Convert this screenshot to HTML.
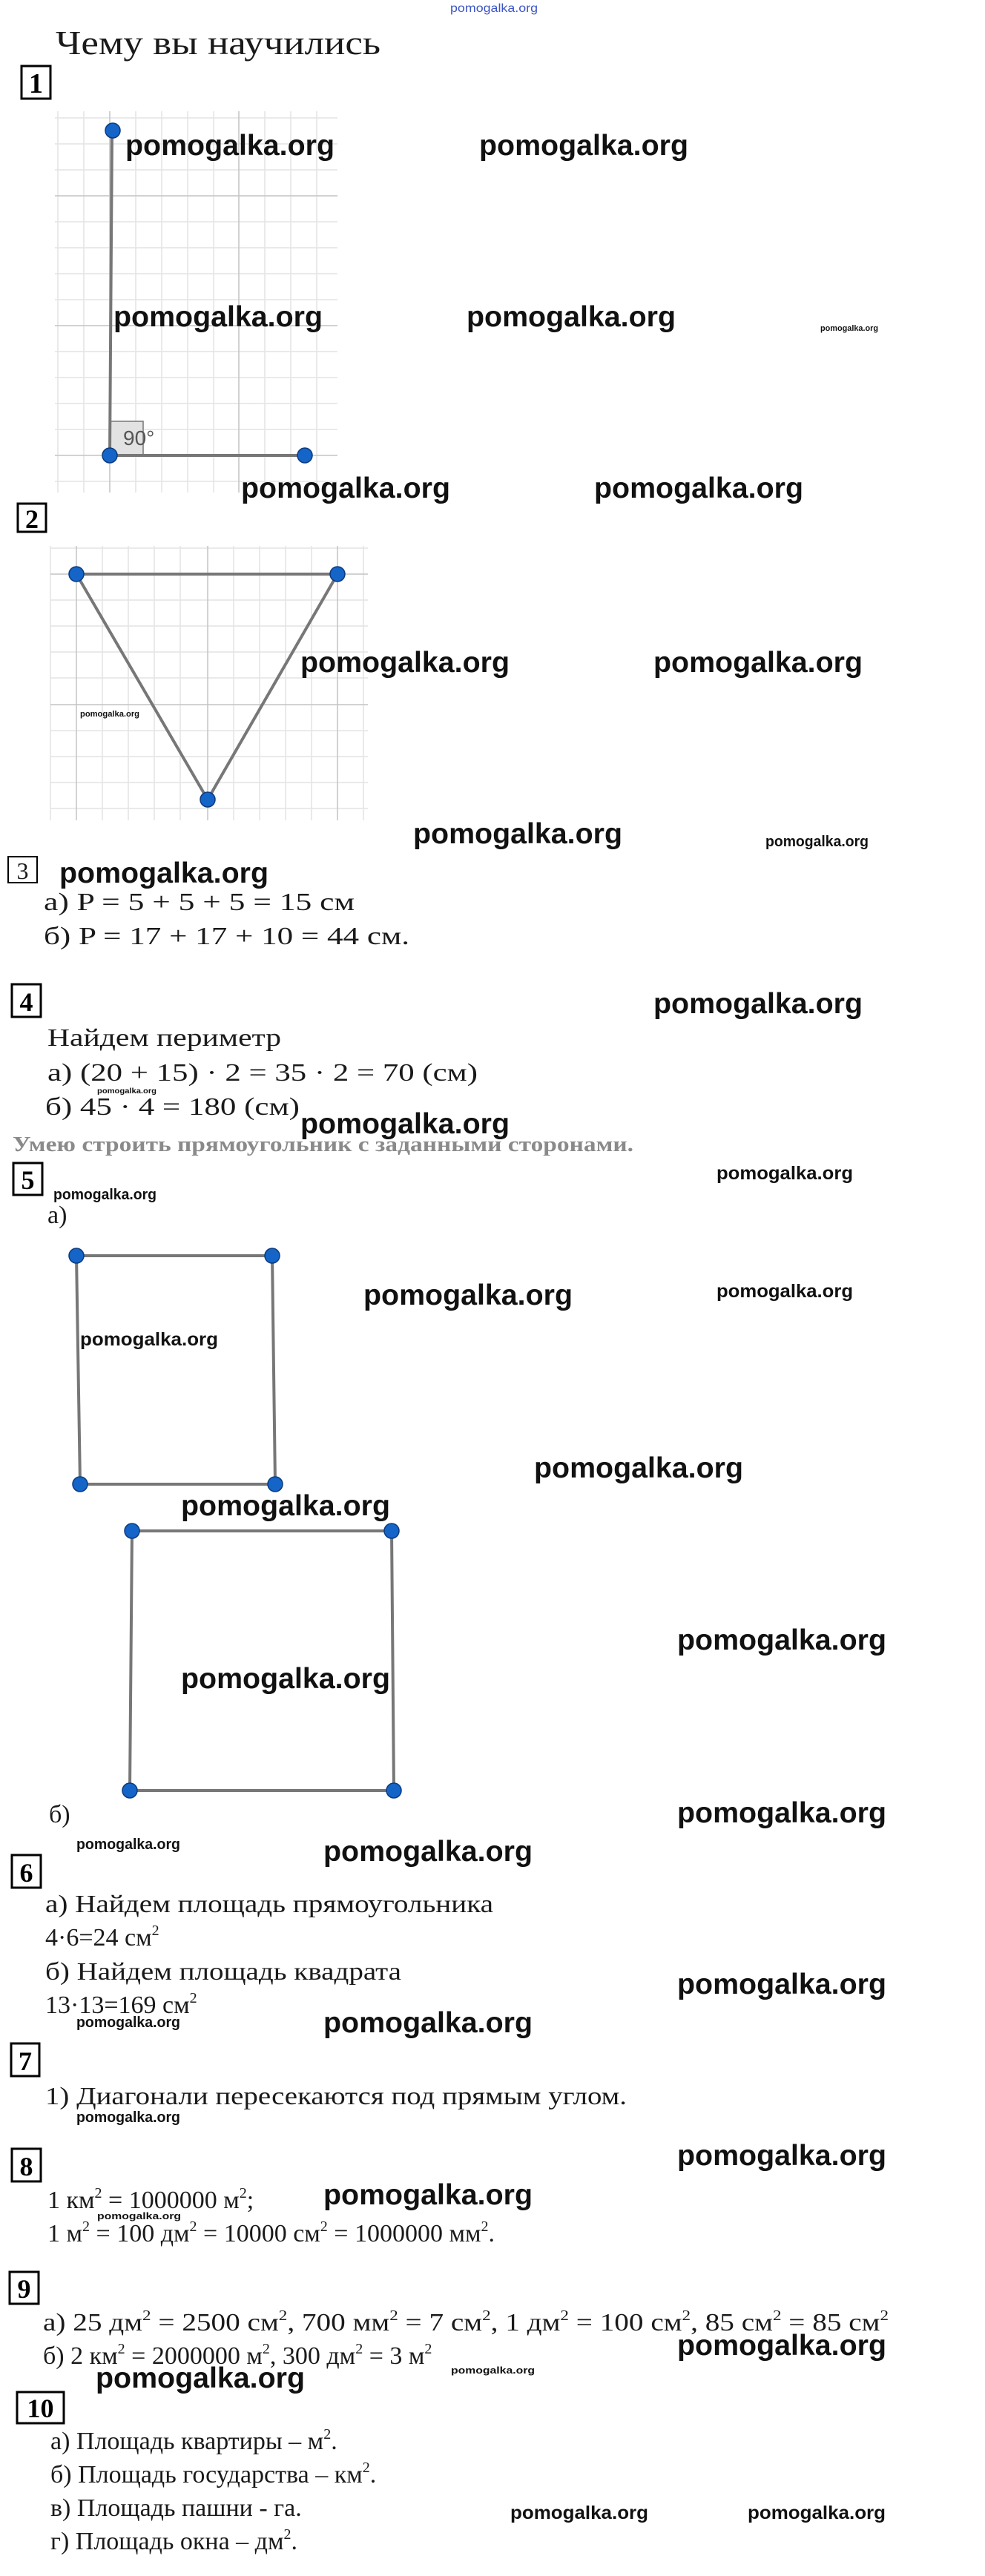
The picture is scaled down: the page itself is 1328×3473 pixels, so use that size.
<!DOCTYPE html>
<html><head><meta charset="utf-8"><style>
html,body{margin:0;padding:0;background:#fff;}
svg{display:block;}
.w{font-family:"Liberation Sans",sans-serif;font-weight:bold;fill:#111;}
.t{font-family:"Liberation Serif","DejaVu Serif",serif;fill:#1a1a1a;}
.b{font-family:"Liberation Serif",serif;font-weight:bold;fill:#000;}
</style></head><body>
<svg width="1328" height="3473" viewBox="0 0 1328 3473" xmlns="http://www.w3.org/2000/svg">
<rect width="1328" height="3473" fill="#fff"/>
<text x="607" y="16" font-family="Liberation Sans,sans-serif" font-size="16" fill="#3b55c8" textLength="118" lengthAdjust="spacingAndGlyphs">pomogalka.org</text>
<text class="t" x="75" y="73" font-size="46" textLength="438" lengthAdjust="spacingAndGlyphs">Чему вы научились</text>

<rect x="29" y="89" width="39" height="44" fill="none" stroke="#000" stroke-width="3"/>
<text class="b" x="48.5" y="125" font-size="38" text-anchor="middle">1</text>

<g stroke="#e4e4e4" stroke-width="1.5">
<line x1="78" y1="150" x2="78" y2="664"/><line x1="113" y1="150" x2="113" y2="664"/><line x1="183" y1="150" x2="183" y2="664"/><line x1="218" y1="150" x2="218" y2="664"/><line x1="253" y1="150" x2="253" y2="664"/><line x1="288" y1="150" x2="288" y2="664"/><line x1="357" y1="150" x2="357" y2="664"/><line x1="392" y1="150" x2="392" y2="664"/><line x1="427" y1="150" x2="427" y2="664"/>
<line x1="74" y1="159" x2="455" y2="159"/><line x1="74" y1="194" x2="455" y2="194"/><line x1="74" y1="229" x2="455" y2="229"/><line x1="74" y1="299" x2="455" y2="299"/><line x1="74" y1="334" x2="455" y2="334"/><line x1="74" y1="369" x2="455" y2="369"/><line x1="74" y1="404" x2="455" y2="404"/><line x1="74" y1="474" x2="455" y2="474"/><line x1="74" y1="509" x2="455" y2="509"/><line x1="74" y1="544" x2="455" y2="544"/><line x1="74" y1="579" x2="455" y2="579"/><line x1="74" y1="649" x2="455" y2="649"/>
</g>
<g stroke="#c4c4c4" stroke-width="1.5">
<line x1="148" y1="150" x2="148" y2="664"/><line x1="322" y1="150" x2="322" y2="664"/>
<line x1="74" y1="264" x2="455" y2="264"/><line x1="74" y1="439" x2="455" y2="439"/><line x1="74" y1="614" x2="455" y2="614"/>
</g>
<rect x="148" y="568" width="45" height="46" fill="#e2e2e2" stroke="#777" stroke-width="1.5"/>
<text x="166" y="600" font-family="Liberation Sans,sans-serif" font-size="28" fill="#555">90°</text>
<g stroke="#777" stroke-width="4" fill="none">
<line x1="151" y1="177" x2="148" y2="614"/><line x1="148" y1="614" x2="411" y2="614"/>
</g>
<g fill="#1565c8" stroke="#0a3a80" stroke-width="1.5">
<circle cx="152" cy="176" r="10"/><circle cx="148" cy="614" r="10"/><circle cx="411" cy="614" r="10"/>
</g>

<text class="w" x="169" y="209" font-size="39" textLength="282" lengthAdjust="spacingAndGlyphs">pomogalka.org</text>
<text class="w" x="646" y="209" font-size="39" textLength="282" lengthAdjust="spacingAndGlyphs">pomogalka.org</text>
<text class="w" x="153" y="440" font-size="39" textLength="282" lengthAdjust="spacingAndGlyphs">pomogalka.org</text>
<text class="w" x="629" y="440" font-size="39" textLength="282" lengthAdjust="spacingAndGlyphs">pomogalka.org</text>
<text class="w" x="1106" y="446" font-size="11" font-weight="normal" textLength="78" lengthAdjust="spacingAndGlyphs">pomogalka.org</text>
<text class="w" x="325" y="671" font-size="39" textLength="282" lengthAdjust="spacingAndGlyphs">pomogalka.org</text>
<text class="w" x="801" y="671" font-size="39" textLength="282" lengthAdjust="spacingAndGlyphs">pomogalka.org</text>

<rect x="24" y="679" width="38" height="38" fill="none" stroke="#000" stroke-width="3"/>
<text class="b" x="43" y="712" font-size="36" text-anchor="middle">2</text>

<g stroke="#e4e4e4" stroke-width="1.5">
<line x1="68" y1="736" x2="68" y2="1106"/><line x1="138" y1="736" x2="138" y2="1106"/><line x1="173" y1="736" x2="173" y2="1106"/><line x1="208" y1="736" x2="208" y2="1106"/><line x1="243" y1="736" x2="243" y2="1106"/><line x1="315" y1="736" x2="315" y2="1106"/><line x1="350" y1="736" x2="350" y2="1106"/><line x1="385" y1="736" x2="385" y2="1106"/><line x1="420" y1="736" x2="420" y2="1106"/><line x1="490" y1="736" x2="490" y2="1106"/>
<line x1="68" y1="739" x2="496" y2="739"/><line x1="68" y1="809" x2="496" y2="809"/><line x1="68" y1="844" x2="496" y2="844"/><line x1="68" y1="879" x2="496" y2="879"/><line x1="68" y1="914" x2="496" y2="914"/><line x1="68" y1="985" x2="496" y2="985"/><line x1="68" y1="1020" x2="496" y2="1020"/><line x1="68" y1="1055" x2="496" y2="1055"/><line x1="68" y1="1090" x2="496" y2="1090"/>
</g>
<g stroke="#c4c4c4" stroke-width="1.5">
<line x1="103" y1="736" x2="103" y2="1106"/><line x1="280" y1="736" x2="280" y2="1106"/><line x1="455" y1="736" x2="455" y2="1106"/>
<line x1="68" y1="774" x2="496" y2="774"/><line x1="68" y1="950" x2="496" y2="950"/>
</g>
<polygon points="103,774 455,774 280,1078" fill="none" stroke="#777" stroke-width="4"/>
<g fill="#1565c8" stroke="#0a3a80" stroke-width="1.5">
<circle cx="103" cy="774" r="10"/><circle cx="455" cy="774" r="10"/><circle cx="280" cy="1078" r="10"/>
</g>
<text class="w" x="108" y="966" font-size="11" font-weight="normal" textLength="80" lengthAdjust="spacingAndGlyphs">pomogalka.org</text>
<text class="w" x="405" y="906" font-size="39" textLength="282" lengthAdjust="spacingAndGlyphs">pomogalka.org</text>
<text class="w" x="881" y="906" font-size="39" textLength="282" lengthAdjust="spacingAndGlyphs">pomogalka.org</text>
<text class="w" x="557" y="1137" font-size="39" textLength="282" lengthAdjust="spacingAndGlyphs">pomogalka.org</text>
<text class="w" x="1032" y="1141" font-size="20" font-weight="normal" textLength="139" lengthAdjust="spacingAndGlyphs">pomogalka.org</text>

<rect x="11" y="1155" width="39" height="35" fill="none" stroke="#000" stroke-width="2"/>
<text class="t" x="30.5" y="1185" font-size="32" text-anchor="middle">3</text>
<text class="w" x="80" y="1190" font-size="39" textLength="282" lengthAdjust="spacingAndGlyphs">pomogalka.org</text>
<text class="t" x="59" y="1227" font-size="34" textLength="419" lengthAdjust="spacingAndGlyphs">а) P = 5 + 5 + 5 = 15 см</text>
<text class="t" x="59" y="1273" font-size="34" textLength="493" lengthAdjust="spacingAndGlyphs">б) P = 17 + 17 + 10 = 44 см.</text>

<rect x="16" y="1327" width="39" height="44" fill="none" stroke="#000" stroke-width="3"/>
<text class="b" x="35.5" y="1363" font-size="36" text-anchor="middle">4</text>
<text class="w" x="881" y="1366" font-size="39" textLength="282" lengthAdjust="spacingAndGlyphs">pomogalka.org</text>
<text class="t" x="64" y="1410" font-size="34" textLength="315" lengthAdjust="spacingAndGlyphs">Найдем периметр</text>
<text class="t" x="64" y="1457" font-size="34" textLength="580" lengthAdjust="spacingAndGlyphs">а) (20 + 15) · 2 = 35 · 2 = 70 (см)</text>
<text class="w" x="131" y="1474" font-size="10" font-weight="normal" textLength="80" lengthAdjust="spacingAndGlyphs">pomogalka.org</text>
<text class="t" x="61" y="1503" font-size="34" textLength="343" lengthAdjust="spacingAndGlyphs">б) 45 · 4 =  180 (см)</text>
<text class="w" x="405" y="1528" font-size="39" textLength="282" lengthAdjust="spacingAndGlyphs">pomogalka.org</text>
<text class="b" x="17" y="1552" font-size="28" style="fill:#8a8a8a" textLength="837" lengthAdjust="spacingAndGlyphs">Умею строить прямоугольник с заданными сторонами.</text>

<rect x="18" y="1568" width="39" height="43" fill="none" stroke="#000" stroke-width="3"/>
<text class="b" x="37.5" y="1603" font-size="36" text-anchor="middle">5</text>
<text class="w" x="966" y="1590" font-size="25" font-weight="normal" textLength="184" lengthAdjust="spacingAndGlyphs">pomogalka.org</text>
<text class="w" x="72" y="1617" font-size="20" font-weight="normal" textLength="139" lengthAdjust="spacingAndGlyphs">pomogalka.org</text>
<text class="t" x="64" y="1649" font-size="34">а)</text>
<g stroke="#777" stroke-width="4" fill="none">
<polygon points="103,1693 367,1693 371,2001 108,2001"/>
<polygon points="178,2064 528,2064 531,2414 175,2414"/>
</g>
<g fill="#1565c8" stroke="#0a3a80" stroke-width="1.5">
<circle cx="103" cy="1693" r="10"/><circle cx="367" cy="1693" r="10"/><circle cx="108" cy="2001" r="10"/><circle cx="371" cy="2001" r="10"/>
<circle cx="178" cy="2064" r="10"/><circle cx="528" cy="2064" r="10"/><circle cx="175" cy="2414" r="10"/><circle cx="531" cy="2414" r="10"/>
</g>
<text class="w" x="490" y="1759" font-size="39" textLength="282" lengthAdjust="spacingAndGlyphs">pomogalka.org</text>
<text class="w" x="966" y="1749" font-size="25" font-weight="normal" textLength="184" lengthAdjust="spacingAndGlyphs">pomogalka.org</text>
<text class="w" x="108" y="1814" font-size="25" font-weight="normal" textLength="186" lengthAdjust="spacingAndGlyphs">pomogalka.org</text>
<text class="w" x="720" y="1992" font-size="39" textLength="282" lengthAdjust="spacingAndGlyphs">pomogalka.org</text>
<text class="w" x="244" y="2043" font-size="39" textLength="282" lengthAdjust="spacingAndGlyphs">pomogalka.org</text>
<text class="w" x="913" y="2224" font-size="39" textLength="282" lengthAdjust="spacingAndGlyphs">pomogalka.org</text>
<text class="w" x="244" y="2276" font-size="39" textLength="282" lengthAdjust="spacingAndGlyphs">pomogalka.org</text>
<text class="t" x="66" y="2457" font-size="34">б)</text>
<text class="w" x="913" y="2457" font-size="39" textLength="282" lengthAdjust="spacingAndGlyphs">pomogalka.org</text>
<text class="w" x="103" y="2493" font-size="20" font-weight="normal" textLength="140" lengthAdjust="spacingAndGlyphs">pomogalka.org</text>
<text class="w" x="436" y="2509" font-size="39" textLength="282" lengthAdjust="spacingAndGlyphs">pomogalka.org</text>

<rect x="16" y="2501" width="39" height="44" fill="none" stroke="#000" stroke-width="3"/>
<text class="b" x="35.5" y="2537" font-size="36" text-anchor="middle">6</text>
<text class="t" x="61" y="2578" font-size="34" textLength="604" lengthAdjust="spacingAndGlyphs">а) Найдем площадь прямоугольника</text>
<text class="t" x="61" y="2623" font-size="34">4·6=24 см<tspan font-size="20" dy="-14">2</tspan></text>
<text class="t" x="61" y="2669" font-size="34" textLength="480" lengthAdjust="spacingAndGlyphs">б) Найдем площадь квадрата</text>
<text class="w" x="913" y="2688" font-size="39" textLength="282" lengthAdjust="spacingAndGlyphs">pomogalka.org</text>
<text class="t" x="61" y="2714" font-size="34">13·13=169 см<tspan font-size="20" dy="-14">2</tspan></text>
<text class="w" x="103" y="2733" font-size="20" font-weight="normal" textLength="140" lengthAdjust="spacingAndGlyphs">pomogalka.org</text>
<text class="w" x="436" y="2740" font-size="39" textLength="282" lengthAdjust="spacingAndGlyphs">pomogalka.org</text>

<rect x="15" y="2755" width="38" height="44" fill="none" stroke="#000" stroke-width="3"/>
<text class="b" x="34" y="2791" font-size="36" text-anchor="middle">7</text>
<text class="t" x="61" y="2837" font-size="34" textLength="784" lengthAdjust="spacingAndGlyphs">1) Диагонали пересекаются под прямым углом.</text>
<text class="w" x="103" y="2861" font-size="20" font-weight="normal" textLength="140" lengthAdjust="spacingAndGlyphs">pomogalka.org</text>

<rect x="16" y="2897" width="39" height="44" fill="none" stroke="#000" stroke-width="3"/>
<text class="b" x="35.5" y="2933" font-size="36" text-anchor="middle">8</text>
<text class="w" x="913" y="2919" font-size="39" textLength="282" lengthAdjust="spacingAndGlyphs">pomogalka.org</text>
<text class="t" x="64" y="2977" font-size="34">1 км<tspan font-size="20" dy="-14">2</tspan><tspan dy="14"> = 1000000 м</tspan><tspan font-size="20" dy="-14">2</tspan><tspan dy="14">;</tspan></text>
<text class="w" x="436" y="2972" font-size="39" textLength="282" lengthAdjust="spacingAndGlyphs">pomogalka.org</text>
<text class="w" x="131" y="2992" font-size="13" font-weight="normal" textLength="113" lengthAdjust="spacingAndGlyphs">pomogalka.org</text>
<text class="t" x="64" y="3022" font-size="34">1 м<tspan font-size="20" dy="-14">2</tspan><tspan dy="14"> = 100 дм</tspan><tspan font-size="20" dy="-14">2</tspan><tspan dy="14"> = 10000 см</tspan><tspan font-size="20" dy="-14">2</tspan><tspan dy="14"> = 1000000 мм</tspan><tspan font-size="20" dy="-14">2</tspan><tspan dy="14">.</tspan></text>

<rect x="13" y="3063" width="39" height="43" fill="none" stroke="#000" stroke-width="3"/>
<text class="b" x="32.5" y="3098" font-size="36" text-anchor="middle">9</text>
<text class="t" x="58" y="3142" font-size="34" textLength="1140" lengthAdjust="spacingAndGlyphs">а) 25 дм<tspan font-size="20" dy="-14">2</tspan><tspan dy="14"> = 2500 см</tspan><tspan font-size="20" dy="-14">2</tspan><tspan dy="14">, 700 мм</tspan><tspan font-size="20" dy="-14">2</tspan><tspan dy="14"> = 7 см</tspan><tspan font-size="20" dy="-14">2</tspan><tspan dy="14">, 1 дм</tspan><tspan font-size="20" dy="-14">2</tspan><tspan dy="14"> = 100 см</tspan><tspan font-size="20" dy="-14">2</tspan><tspan dy="14">, 85 см</tspan><tspan font-size="20" dy="-14">2</tspan><tspan dy="14"> = 85 см</tspan><tspan font-size="20" dy="-14">2</tspan></text>
<text class="w" x="913" y="3175" font-size="39" textLength="282" lengthAdjust="spacingAndGlyphs">pomogalka.org</text>
<text class="t" x="58" y="3187" font-size="34">б) 2 км<tspan font-size="20" dy="-14">2</tspan><tspan dy="14"> = 2000000 м</tspan><tspan font-size="20" dy="-14">2</tspan><tspan dy="14">, 300 дм</tspan><tspan font-size="20" dy="-14">2</tspan><tspan dy="14"> = 3 м</tspan><tspan font-size="20" dy="-14">2</tspan></text>
<text class="w" x="608" y="3200" font-size="13" font-weight="normal" textLength="113" lengthAdjust="spacingAndGlyphs">pomogalka.org</text>
<text class="w" x="129" y="3219" font-size="39" textLength="282" lengthAdjust="spacingAndGlyphs">pomogalka.org</text>

<rect x="23" y="3225" width="63" height="42" fill="none" stroke="#000" stroke-width="3"/>
<text class="b" x="54.5" y="3259" font-size="36" text-anchor="middle">10</text>
<text class="t" x="68" y="3302" font-size="34">а) Площадь квартиры – м<tspan font-size="20" dy="-14">2</tspan><tspan dy="14">.</tspan></text>
<text class="t" x="68" y="3347" font-size="34">б) Площадь государства – км<tspan font-size="20" dy="-14">2</tspan><tspan dy="14">.</tspan></text>
<text class="t" x="68" y="3392" font-size="34">в) Площадь пашни - га.</text>
<text class="w" x="688" y="3396" font-size="25" font-weight="normal" textLength="186" lengthAdjust="spacingAndGlyphs">pomogalka.org</text>
<text class="w" x="1008" y="3396" font-size="25" font-weight="normal" textLength="186" lengthAdjust="spacingAndGlyphs">pomogalka.org</text>
<text class="t" x="68" y="3437" font-size="34">г) Площадь окна – дм<tspan font-size="20" dy="-14">2</tspan><tspan dy="14">.</tspan></text>
</svg>
</body></html>
